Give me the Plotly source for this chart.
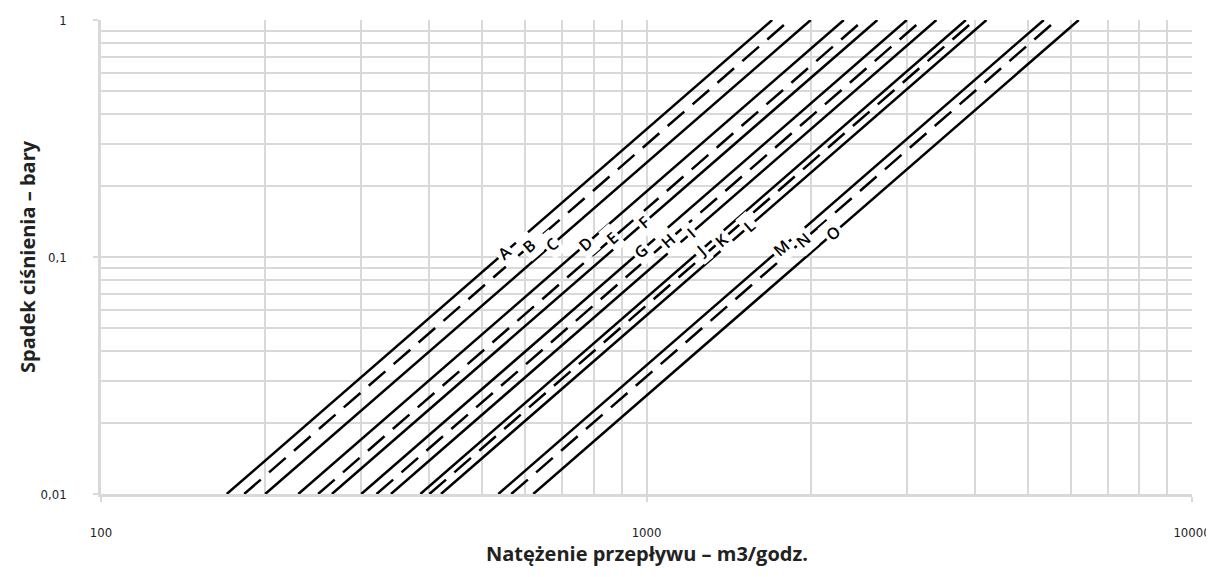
import math
import plotly.graph_objects as go

# Line identifiers and styles
labels = ["A", "B", "C", "D", "E", "F", "G", "H", "I", "J", "K", "L", "M", "N", "O"]
dashed = [False, True, False, False, True, False, False, True, False, False, True, False, False, True, False]
# Flow (m3/h) at 0.01 bar and at 1 bar for each line
flow_low = [170, 183, 200, 230, 250, 265, 300, 320, 340, 385, 400, 420, 535, 565, 620]
flow_high = [1700, 1830, 2000, 2300, 2500, 2650, 3000, 3200, 3400, 3850, 4000, 4200, 5350, 5650, 6200]
dp_low = 0.01
dp_high = 1.0
# Pressure drop (bar) at which each line's label sits
label_dp = [0.104, 0.111, 0.113, 0.113, 0.120, 0.140, 0.106, 0.117, 0.126, 0.106, 0.118, 0.135, 0.109, 0.118, 0.126]

x_ticks = [100, 1000, 10000]
x_ticktext = ["100", "1000", "10000"]
x_minor = [200, 300, 400, 500, 600, 700, 800, 900, 2000, 3000, 4000, 5000, 6000, 7000, 8000, 9000]
y_ticks = [0.01, 0.1, 1]
y_ticktext = ["0,01", "0,1", "1"]
y_minor = [0.02, 0.03, 0.04, 0.05, 0.06, 0.07, 0.08, 0.09, 0.2, 0.3, 0.4, 0.5, 0.6, 0.7, 0.8, 0.9]

x_title = "Natężenie przepływu – m3/godz."
y_title = "Spadek ciśnienia – bary"

grid_color = "#d9d9d9"

fig = go.Figure()
for lab, d, xl, xh in zip(labels, dashed, flow_low, flow_high):
    fig.add_trace(go.Scatter(
        x=[xl, xh], y=[dp_low, dp_high], mode="lines", name=lab,
        line=dict(color="black", width=2.5, dash="22px,11px" if d else "solid"),
        showlegend=False, hoverinfo="skip",
    ))

# labels placed on each line (Q grows with sqrt of pressure drop)
for lab, xl, yd in zip(labels, flow_low, label_dp):
    xq = xl * (yd / dp_low) ** 0.5
    fig.add_annotation(
        x=math.log10(xq), y=math.log10(yd),
        text=lab, showarrow=False, textangle=-41,
        font=dict(family="Open Sans, Noto Sans, sans-serif", size=16, color="black", weight=600),
        bgcolor="white", borderpad=2,
    )

tick_font = dict(family="DejaVu Sans Condensed, Liberation Sans Narrow, Liberation Sans, sans-serif", size=13, color="#222")
title_font = dict(family="Open Sans, Noto Sans, sans-serif", size=20, color="#222", weight=700)

fig.add_annotation(xref="paper", yref="paper", x=0.5, y=-0.0, yshift=-59,
                   text=x_title, showarrow=False, font=title_font, yanchor="middle")
fig.add_annotation(xref="paper", yref="paper", x=0.0, xshift=-74, y=0.5,
                   text=y_title, showarrow=False, font=title_font, textangle=-90, xanchor="center")

fig.update_xaxes(
    type="log", range=[2, 4], automargin=False,
    tickmode="array", tickvals=x_ticks, ticktext=x_ticktext,
    tickfont=tick_font, ticks="outside", ticklen=5, tickcolor=grid_color, tickwidth=1.5,
    ticklabelstandoff=20,
    showgrid=True, gridcolor=grid_color, gridwidth=1.5,
    minor=dict(tickvals=x_minor, showgrid=True, gridcolor=grid_color, gridwidth=1.5, ticks=""),
    showline=True, linecolor=grid_color, linewidth=2.5,
    zeroline=False,
)
fig.update_yaxes(
    type="log", range=[-2, 0], automargin=False,
    tickmode="array", tickvals=y_ticks, ticktext=y_ticktext,
    tickfont=tick_font, ticks="outside", ticklen=5, tickcolor=grid_color, tickwidth=1.5,
    ticklabelstandoff=24,
    showgrid=True, gridcolor=grid_color, gridwidth=1.5,
    minor=dict(tickvals=y_minor, showgrid=True, gridcolor=grid_color, gridwidth=1.5, ticks=""),
    showline=True, linecolor=grid_color, linewidth=2.5,
    zeroline=False,
)

fig.update_layout(
    width=1214, height=577,
    margin=dict(l=93, r=30, t=12, b=91),
    plot_bgcolor="white", paper_bgcolor="white",
)

fig.write_html("out.html")
